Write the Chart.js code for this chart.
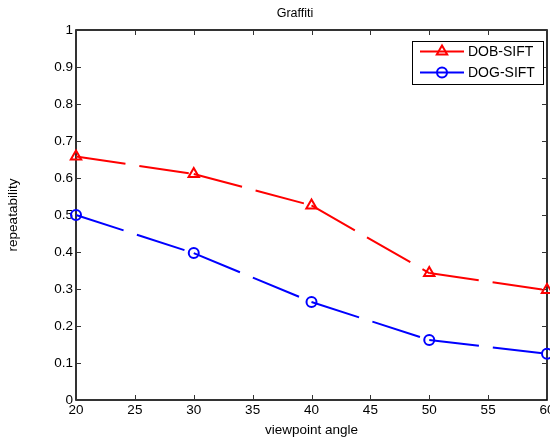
<!DOCTYPE html>
<html>
<head>
<meta charset="utf-8">
<script src="https://cdn.jsdelivr.net/npm/chart.js@4/dist/chart.umd.min.js"></script>
<style>
html, body { margin: 0; padding: 0; background: #fff; overflow: hidden; }
#wrap { position: relative; width: 550px; height: 438px; }
</style>
</head>
<body>
<div id="wrap"><canvas id="chart"></canvas></div>
<script>
// values
const angles = [20, 30, 40, 50, 60];
const dobSift = [0.658, 0.611, 0.526, 0.343, 0.297];
const dogSift = [0.500, 0.397, 0.265, 0.162, 0.125];
const xTicks = [20, 25, 30, 35, 40, 45, 50, 55, 60];
const yTicks = [0, 0.1, 0.2, 0.3, 0.4, 0.5, 0.6, 0.7, 0.8, 0.9, 1];
const seriesNames = ['DOB-SIFT', 'DOG-SIFT'];

const FONT = 'Arial, "Liberation Sans", sans-serif';
Chart.defaults.font.family = FONT;
Chart.defaults.font.size = 13.5;
Chart.defaults.color = '#000';

const toPoints = vals => angles.map((a, i) => ({ x: a, y: vals[i] }));

// restart the dash pattern on every segment, like matlab does
const perSegment = { borderDashOffset: c => (c.p0DataIndex % 2) * 0.001 };

// inward ticks on all four sides + box, legend and title
const matlabFrame = {
    id: 'matlabFrame',
    beforeDatasetsDraw(chart) {
        const { ctx, chartArea: a, scales: { x, y } } = chart;
        ctx.save();
        ctx.strokeStyle = '#000';
        ctx.lineWidth = 1.6;
        ctx.strokeRect(a.left, a.top, a.right - a.left, a.bottom - a.top);
        ctx.lineWidth = 1;
        ctx.strokeStyle = '#333';
        ctx.beginPath();
        xTicks.forEach(v => {
            const px = Math.round(x.getPixelForValue(v)) + 0.5;
            ctx.moveTo(px, a.bottom); ctx.lineTo(px, a.bottom - 5);
            ctx.moveTo(px, a.top); ctx.lineTo(px, a.top + 5);
        });
        yTicks.forEach(v => {
            const py = Math.round(y.getPixelForValue(v)) + 0.5;
            ctx.moveTo(a.left, py); ctx.lineTo(a.left + 5, py);
            ctx.moveTo(a.right, py); ctx.lineTo(a.right - 5, py);
        });
        ctx.stroke();
        ctx.restore();
    },
    afterDraw(chart) {
        const { ctx } = chart;
        ctx.save();
        // title
        ctx.fillStyle = '#000';
        ctx.font = '12.5px ' + FONT;
        ctx.textAlign = 'center';
        ctx.textBaseline = 'middle';
        ctx.fillText('Graffiti', 295, 14);

        // legend
        const bx = 412, by = 41, bw = 131, bh = 43;
        ctx.fillStyle = '#fff';
        ctx.fillRect(bx, by, bw, bh);
        ctx.strokeStyle = '#000';
        ctx.lineWidth = 1;
        ctx.strokeRect(bx + 0.5, by + 0.5, bw, bh);
        const rows = [51.5, 72.5];
        chart.data.datasets.forEach((ds, i) => {
            const ry = rows[i];
            ctx.strokeStyle = ds.borderColor;
            ctx.lineWidth = 2;
            ctx.setLineDash([]);
            ctx.beginPath();
            ctx.moveTo(420, ry); ctx.lineTo(464, ry);
            ctx.stroke();
            ctx.fillStyle = 'rgba(0,0,0,0)';
            Chart.helpers.drawPoint(ctx, {
                pointStyle: ds.pointStyle, radius: ds.pointRadius,
                borderWidth: ds.pointBorderWidth, rotation: 0
            }, 442, ry);
            ctx.fillStyle = '#000';
            ctx.textAlign = 'left';
            ctx.font = '14px ' + FONT;
            ctx.fillText(ds.label, 468, ry + 0.5);
        });
        ctx.restore();
    }
};

new Chart(document.getElementById('chart'), {
    type: 'line',
    data: {
        datasets: [
            {
                label: seriesNames[0],
                data: toPoints(dobSift),
                borderColor: '#ff0000',
                borderWidth: 2,
                borderDash: [50, 14],
                segment: perSegment,
                pointStyle: 'triangle',
                pointRadius: 6,
                pointBorderWidth: 2,
                pointBorderColor: '#ff0000',
                pointBackgroundColor: 'rgba(0,0,0,0)',
                tension: 0,
                clip: false
            },
            {
                label: seriesNames[1],
                data: toPoints(dogSift),
                borderColor: '#0000ff',
                borderWidth: 2,
                borderDash: [50, 14],
                segment: perSegment,
                pointStyle: 'circle',
                pointRadius: 5,
                pointBorderWidth: 2,
                pointBorderColor: '#0000ff',
                pointBackgroundColor: 'rgba(0,0,0,0)',
                tension: 0,
                clip: false
            }
        ]
    },
    options: {
        responsive: true,
        maintainAspectRatio: false,
        animation: false,
        layout: { autoPadding: false, padding: { top: 30, right: 3, left: 0, bottom: 0 } },
        plugins: {
            legend: { display: false },
            tooltip: { enabled: false }
        },
        scales: {
            x: {
                type: 'linear',
                min: 20,
                max: 60,
                grid: { display: false, drawTicks: false },
                border: { display: false },
                afterBuildTicks: s => { s.ticks = xTicks.map(v => ({ value: v })); },
                afterFit: s => { s.height = 38; s.paddingLeft = 0; s.paddingRight = 0; },
                ticks: { padding: 2, maxRotation: 0, autoSkip: false },
                title: { display: true, text: 'viewpoint angle', padding: { top: 0, bottom: 0 } }
            },
            y: {
                min: 0,
                max: 1,
                grid: { display: false, drawTicks: false },
                border: { display: false },
                afterBuildTicks: s => { s.ticks = yTicks.map(v => ({ value: v })); },
                afterFit: s => { s.width = 76; s.paddingTop = 0; s.paddingBottom = 0; },
                ticks: { padding: 3, autoSkip: false, callback: v => String(Math.round(v * 10) / 10) },
                title: { display: true, text: 'repeatability', padding: { top: 5, bottom: 0 } }
            }
        }
    },
    plugins: [matlabFrame]
});
</script>
</body>
</html>
